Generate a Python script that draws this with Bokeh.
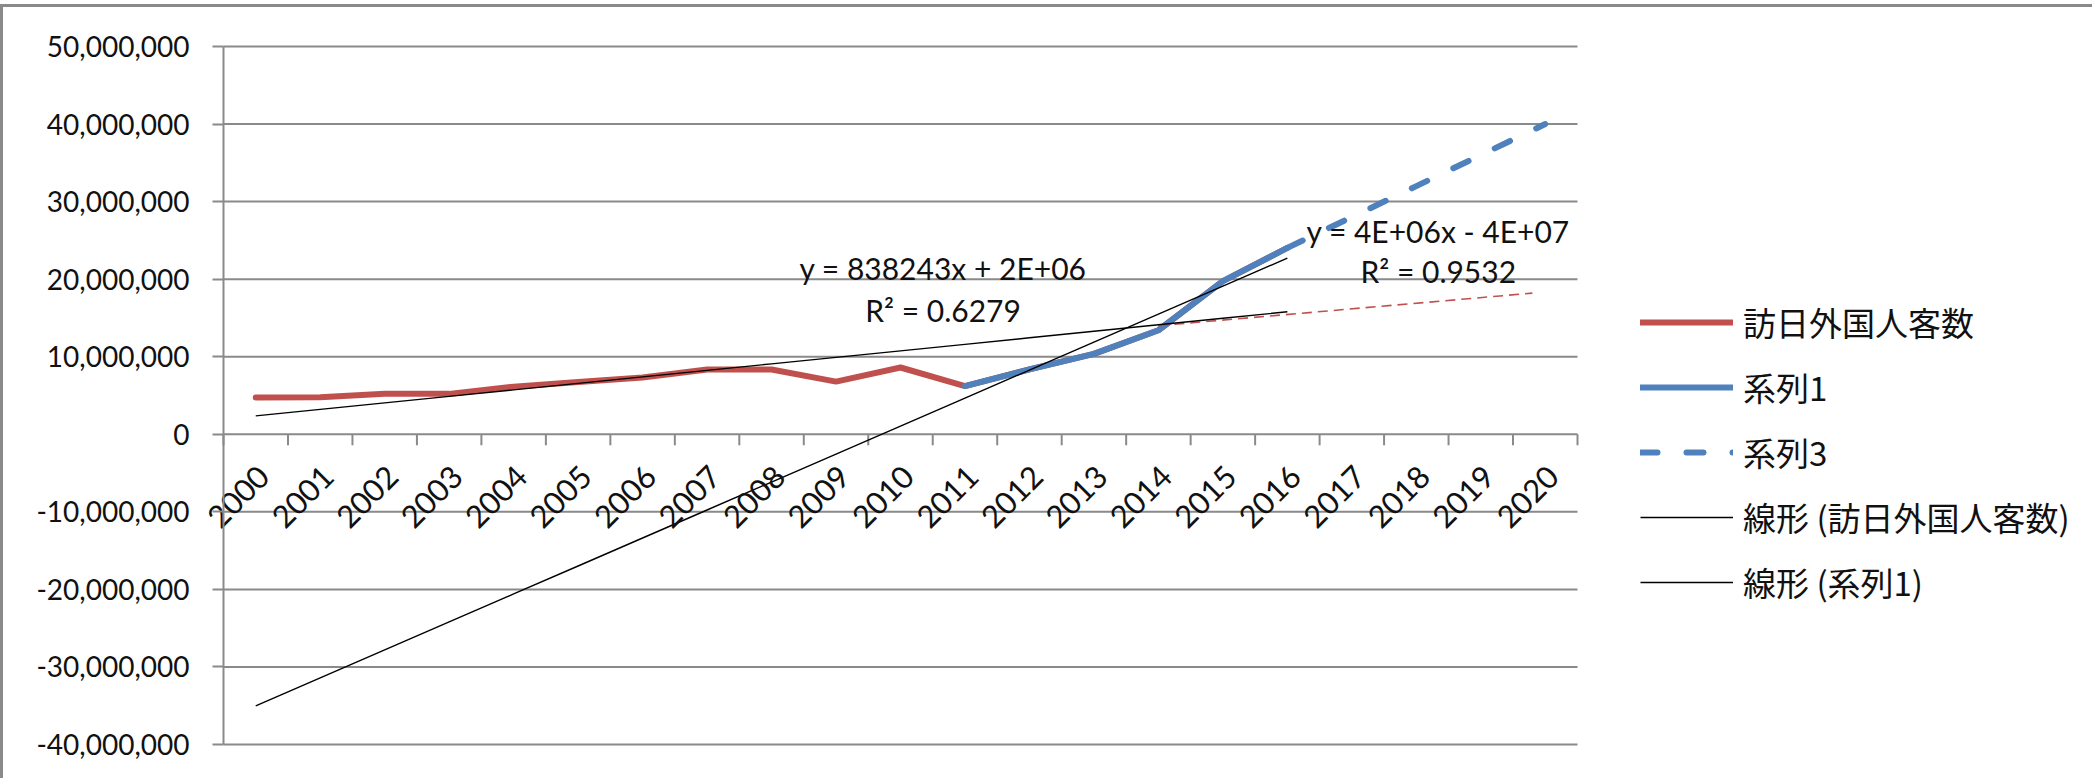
import numpy as np
from bokeh.plotting import figure
from bokeh.models import (Range1d, FixedTicker, NumeralTickFormatter, Legend, LegendItem,
                          LinearAxis, CustomJSTickFormatter)
from bokeh.embed import file_html
from bokeh.resources import INLINE

# ---------------- data ----------------
category_years = list(range(2000, 2021))
category_labels = [str(y) for y in category_years]

visitor_years = list(range(2000, 2017))
visitors = [4757146, 4771555, 5238963, 5211725, 6137905, 6727926, 7334077, 8346969,
            8350835, 6789658, 8611175, 6218752, 8358105, 10363904, 13413467,
            19737409, 24039700]

series1_years = [2011, 2012, 2013, 2014, 2015, 2016]
series1 = [6218752, 8358105, 10363904, 13413467, 19737409, 24039700]

series3_years = [2016, 2017, 2018, 2019, 2020]
series3 = [24039700, 28000000, 32000000, 36000000, 40000000]

forecast_years = [2014.0, 2019.8]
forecast_values = [14.0e6, 18.2e6]

y_ticks = [-40e6, -30e6, -20e6, -10e6, 0, 10e6, 20e6, 30e6, 40e6, 50e6]

eq_texts = ["y = 838243x + 2E+06", "R² = 0.6279", "y = 4E+06x - 4E+07", "R² = 0.9532"]
eq_x = [2010.66, 2010.66, 2018.34, 2018.34]
eq_y = [21.4e6, 16.0e6, 26.2e6, 21.0e6]

names = ["訪日外国人客数", "系列1", "系列3", "線形 (訪日外国人客数)", "線形 (系列1)"]

# trendlines (least squares on the plotted values)
trend_years = visitor_years
c_vis = np.polyfit(visitor_years, visitors, 1)
trend_vis = list(np.polyval(c_vis, trend_years))
c_s1 = np.polyfit(series1_years, series1, 1)
trend_s1 = list(np.polyval(c_s1, trend_years))

# ---------------- styles ----------------
RED = "#C0504D"
BLUE = "#4F81BD"
GRID = "#8a8a8a"
NUMFONT = "Lato"
CJK = "Noto Sans CJK JP"
TXT = "#111111"
LABEL_SHIFT = 0.125   # rotated category labels end slightly right of the category centre

# page is 2095x781; the figure sits below a 4px margin and inside a 3px top/left border
W, H = 2092, 774
PL, PR, PT, PB = 220, 1574, 39, 737   # plot-area edges in canvas pixels
X0, X1 = 1999.5, 2020.5
Y0, Y1 = -40e6, 50e6
xs = (X1 - X0) / (PR - PL)
ys = (Y1 - Y0) / (PB - PT)

p = figure(width=W, height=H,
           x_range=Range1d(X0 - PL * xs, X1 + (W - PR) * xs),
           y_range=Range1d(Y0 - (H - PB) * ys, Y1 + PT * ys),
           output_backend="svg", toolbar_location=None,
           min_border_left=0, min_border_right=0, min_border_top=0, min_border_bottom=0)
p.styles = {"margin-top": "4px", "border-top": "3px solid #8a8a8a",
            "border-left": "3px solid #8a8a8a"}
p.outline_line_color = None
p.background_fill_color = "white"
p.border_fill_color = "white"
p.xaxis.visible = False
p.yaxis.visible = False
p.xgrid.visible = False
p.ygrid.visible = False

# horizontal gridlines limited to the plot area
p.segment(x0=[X0] * len(y_ticks), x1=[X1] * len(y_ticks), y0=y_ticks, y1=y_ticks,
          line_color=GRID, line_width=2)

# value axis
ya = LinearAxis(fixed_location=X0, bounds=(Y0, Y1),
                ticker=FixedTicker(ticks=y_ticks),
                formatter=NumeralTickFormatter(format="0,0"),
                axis_line_color=GRID, axis_line_width=2,
                major_tick_line_color=GRID, major_tick_line_width=2,
                major_tick_out=11, major_tick_in=0, minor_tick_line_color=None,
                major_label_standoff=23, major_label_text_font=NUMFONT,
                major_label_text_font_size="28px", major_label_text_color=TXT)
p.add_layout(ya, "left")

# category axis crossing at y = 0: ticks at category boundaries, labels at centres
tick_len = 11 * ys
bounds = [y - 0.5 for y in category_years] + [category_years[-1] + 0.5]
p.segment(x0=bounds, y0=[0] * len(bounds), x1=bounds, y1=[-tick_len] * len(bounds),
          line_color=GRID, line_width=2)

label_ticks = [y + LABEL_SHIFT for y in category_years]
xa = LinearAxis(ticker=FixedTicker(ticks=label_ticks), fixed_location=0,
                formatter=CustomJSTickFormatter(
                    args=dict(labels=category_labels, first=category_years[0]),
                    code="return labels[Math.round(tick - first - %r)];" % LABEL_SHIFT),
                major_label_orientation=np.pi / 4,
                axis_line_color=None, major_tick_line_color=None,
                minor_tick_line_color=None, major_tick_in=0, major_tick_out=0,
                major_label_standoff=37,
                major_label_text_font=NUMFONT, major_label_text_font_size="31px",
                major_label_text_color=TXT)
p.add_layout(xa, "below")

# series
r_vis = p.line(visitor_years, visitors, line_color=RED, line_width=6,
               line_join="round", line_cap="round")
r_s1 = p.line(series1_years, series1, line_color=BLUE, line_width=6,
              line_join="round", line_cap="round")
r_s3 = p.line(series3_years, series3, line_color=BLUE, line_width=6,
              line_dash="17 29", line_cap="round")
r_fc = p.line(forecast_years, forecast_values, line_color=RED, line_width=1.6,
              line_dash="10 6")
r_tv = p.line(trend_years, trend_vis, line_color="#000000", line_width=1.4)
r_ts = p.line(trend_years, trend_s1, line_color="#000000", line_width=1.4)

p.text(x=eq_x, y=eq_y, text=eq_texts, text_align="center", text_baseline="middle",
       text_font={"value": NUMFONT}, text_font_size="30px", text_color=TXT)

legend = Legend(items=[
    LegendItem(label=names[0], renderers=[r_vis]),
    LegendItem(label=names[1], renderers=[r_s1]),
    LegendItem(label=names[2], renderers=[r_s3]),
    LegendItem(label=names[3], renderers=[r_tv]),
    LegendItem(label=names[4], renderers=[r_ts]),
], location=(1637, 175))
legend.padding = 0
legend.margin = 0
legend.border_line_color = None
legend.background_fill_alpha = 0
legend.glyph_width = 93
legend.glyph_height = 40
legend.label_height = 40
legend.spacing = 17
legend.label_standoff = 10
legend.label_text_font = CJK
legend.label_text_font_size = "33px"
legend.label_text_color = TXT
legend.label_text_baseline = "middle"
p.add_layout(legend, "center")

open("out.html", "w").write(file_html(p, INLINE))
